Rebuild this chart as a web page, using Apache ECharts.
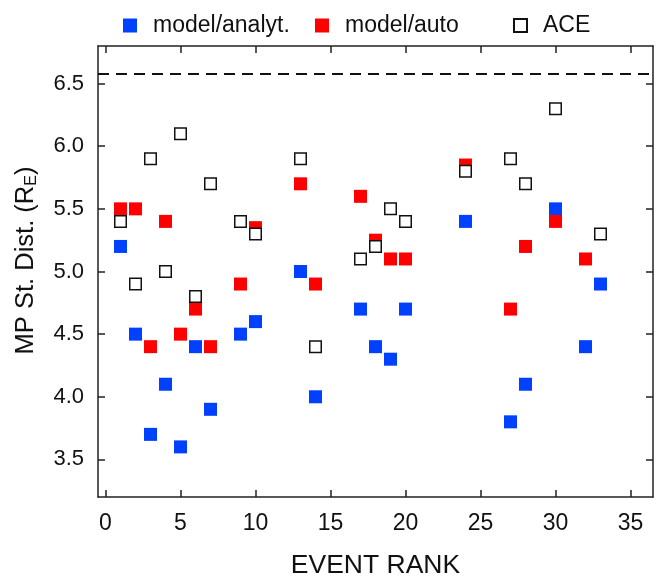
<!DOCTYPE html>
<html>
<head>
<meta charset="utf-8">
<script src="https://cdn.jsdelivr.net/npm/echarts@6/dist/echarts.min.js"></script>
<style>html,body{margin:0;padding:0;background:#fff}#c{width:664px;height:577px}</style>
</head>
<body>
<div id="c"></div>
<script>
const analytRanks = [1,2,3,4,5,6,7,9,10,13,14,17,18,19,20,24,27,28,30,32,33];
const analytValues = [5.2,4.5,3.7,4.1,3.6,4.4,3.9,4.5,4.6,5.0,4.0,4.7,4.4,4.3,4.7,5.4,3.8,4.1,5.5,4.4,4.9];
const autoRanks = [1,2,3,4,5,6,7,9,10,13,14,17,18,19,20,24,27,28,30,32];
const autoValues = [5.5,5.5,4.4,5.4,4.5,4.7,4.4,4.9,5.35,5.7,4.9,5.6,5.25,5.1,5.1,5.85,4.7,5.2,5.4,5.1];
const aceRanks = [1,2,3,4,5,6,7,9,10,13,14,17,18,19,20,24,27,28,30,33];
const aceValues = [5.4,4.9,5.9,5.0,6.1,4.8,5.7,5.4,5.3,5.9,4.4,5.1,5.2,5.5,5.4,5.8,5.9,5.7,6.3,5.3];
const dashedLevel = 6.585;
const xTicks = [0,5,10,15,20,25,30,35];
const yTicks = [3.5,4.0,4.5,5.0,5.5,6.0,6.5];
const seriesNames = ['model/analyt.','model/auto','ACE'];

const pairs = (xs, ys) => xs.map((x, i) => [x, ys[i]]);
const FONT = 'Arial, "Liberation Sans", Helvetica, sans-serif';
const axisLine = {show: true, onZero: false, lineStyle: {color: '#222', width: 1.5}};
const tick = v => ({show: true, inside: true, length: 7, lineStyle: {color: '#222', width: 1.5}, customValues: v});

const chart = echarts.init(document.getElementById('c'), null, {renderer: 'canvas'});
const legendBase = {
  top: 9, itemWidth: 14, itemHeight: 14, icon: 'rect',
  textStyle: {fontFamily: FONT, fontSize: 23, color: '#111', padding: [0,0,0,11]}
};
chart.setOption({
  animation: false,
  legend: [
    Object.assign({}, legendBase, {left: 118, data: [seriesNames[0]]}),
    Object.assign({}, legendBase, {left: 310, data: [seriesNames[1]]}),
    Object.assign({}, legendBase, {left: 508, itemWidth: 13, itemHeight: 13, data: [seriesNames[2]]})
  ],
  grid: {left: 98, right: 11, top: 46, bottom: 80, containLabel: false, outerBoundsMode: 'none'},
  xAxis: [{
    type: 'value', min: -0.5, max: 36.5, position: 'bottom',
    name: 'EVENT RANK', nameLocation: 'middle', nameGap: 55,
    nameTextStyle: {fontFamily: FONT, fontSize: 26.5, color: '#111'},
    axisLine: axisLine, axisTick: tick(xTicks),
    axisLabel: {fontFamily: FONT, fontSize: 23, color: '#111', margin: 15, customValues: xTicks},
    splitLine: {show: false}
  }, {
    type: 'value', min: -0.5, max: 36.5, position: 'top',
    axisLine: axisLine, axisTick: tick(xTicks),
    axisLabel: {show: false}, splitLine: {show: false}
  }],
  yAxis: [{
    type: 'value', min: 3.2, max: 6.8, position: 'left',
    name: '{a|MP St. Dist. (R}{sub|E}{a|)}', nameLocation: 'middle', nameRotate: 90, nameGap: 57,
    nameTextStyle: {
      fontFamily: FONT, color: '#111', padding: [0,0,0,22],
      rich: {
        a: {fontFamily: FONT, fontSize: 25.5, color: '#111', lineHeight: 30},
        sub: {fontFamily: FONT, fontSize: 16, color: '#111', lineHeight: 30, padding: [12,0,0,0]}
      }
    },
    axisLine: axisLine, axisTick: tick(yTicks),
    axisLabel: {fontFamily: FONT, fontSize: 22, color: '#111', margin: 14, customValues: yTicks,
      formatter: v => v.toFixed(1)},
    splitLine: {show: false}
  }, {
    type: 'value', min: 3.2, max: 6.8, position: 'right',
    axisLine: axisLine, axisTick: tick(yTicks),
    axisLabel: {show: false}, splitLine: {show: false}
  }],
  series: [{
    name: seriesNames[0], type: 'scatter', symbol: 'rect', symbolSize: 13,
    itemStyle: {color: '#0040ff', opacity: 1},
    data: pairs(analytRanks, analytValues), z: 2
  }, {
    name: seriesNames[1], type: 'scatter', symbol: 'rect', symbolSize: 13,
    itemStyle: {color: '#ff0000', opacity: 1},
    data: pairs(autoRanks, autoValues), z: 3
  }, {
    name: seriesNames[2], type: 'scatter', symbol: 'rect', symbolSize: 11.5,
    itemStyle: {color: '#ffffff', borderColor: '#111', borderWidth: 1.5, opacity: 1},
    data: pairs(aceRanks, aceValues), z: 4,
    markLine: {
      silent: true, symbol: ['none','none'], label: {show: false},
      lineStyle: {color: '#111', width: 2, type: [11,7]},
      data: [{yAxis: dashedLevel}]
    }
  }]
});
</script>
</body>
</html>
